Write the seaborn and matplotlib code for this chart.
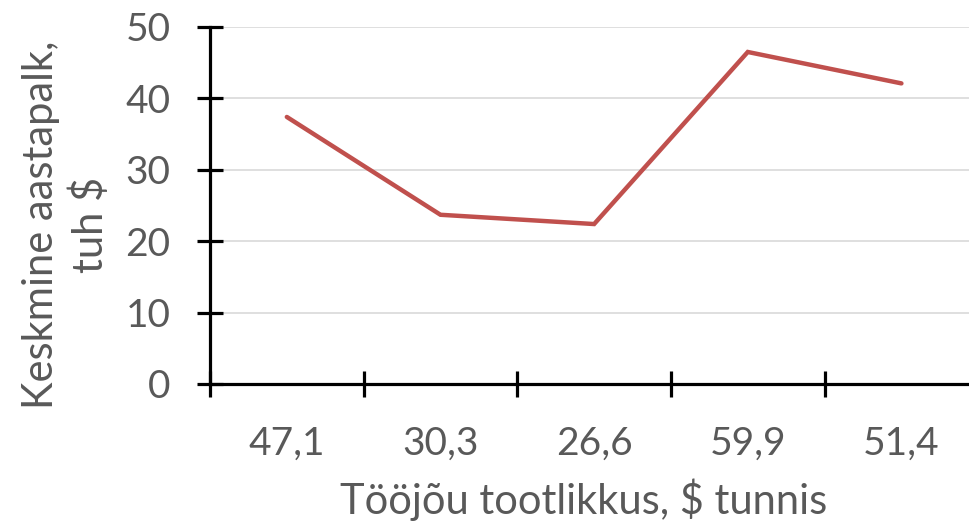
import matplotlib
matplotlib.use("Agg")
import matplotlib.pyplot as plt
import seaborn as sns

# === Andmed ===
categories = ["47,1", "30,3", "26,6", "59,9", "51,4"]
salary = [37.4, 23.7, 22.4, 46.5, 42.1]
x_title = "Tööjõu tootlikkus, $ tunnis"
y_title = "Keskmine aastapalk,\ntuh $"

sns.set_style("white")
plt.rcParams["font.family"] = ["Lato", "DejaVu Sans"]

text_color = "#595959"

fig = plt.figure(figsize=(9.7, 5.23), dpi=100)
ax = fig.add_axes([0.2165, 0.2658, 0.792, 0.6826])

sns.lineplot(x=categories, y=salary, sort=False, color="#c0504d",
             linewidth=3.2, ax=ax)
ax.lines[0].set_solid_capstyle("round")
ax.lines[0].set_solid_joinstyle("miter")

ax.set_xlim(-0.5, len(categories) - 0.5)
ax.set_ylim(0, 50)
ax.set_yticks(range(0, 51, 10))
ax.set_xticks(range(len(categories)))
ax.set_xticklabels(categories)
ax.set_xticks([i - 0.5 for i in range(len(categories) + 1)], minor=True)

# ruudustik
ax.grid(axis="y", color="#d9d9d9", linewidth=1.2)
ax.grid(axis="x", visible=False)
ax.set_axisbelow(True)

for side in ["top", "right"]:
    ax.spines[side].set_visible(False)
for side in ["left", "bottom"]:
    ax.spines[side].set_color("black")
    ax.spines[side].set_linewidth(2.3)
    ax.spines[side].set_zorder(3)

ax.tick_params(axis="y", which="major", direction="inout", length=19, width=2.3,
               color="black", labelsize=28, labelcolor=text_color, pad=19, left=True)
ax.tick_params(axis="x", which="major", length=0, labelsize=28,
               labelcolor=text_color, pad=30)
ax.tick_params(axis="x", which="minor", direction="inout", length=19, width=2.3,
               color="black", bottom=True)

ax.set_xlabel(x_title, fontsize=30, color=text_color)
ax.xaxis.label.set_va("center")
ax.xaxis.set_label_coords(0.486, -0.325)

ax.set_ylabel(y_title, fontsize=30, color=text_color, linespacing=1.3)
ax.yaxis.label.set_va("center")
ax.yaxis.set_label_coords(-0.1875, 0.445)

fig.savefig("out.png", dpi=100)
